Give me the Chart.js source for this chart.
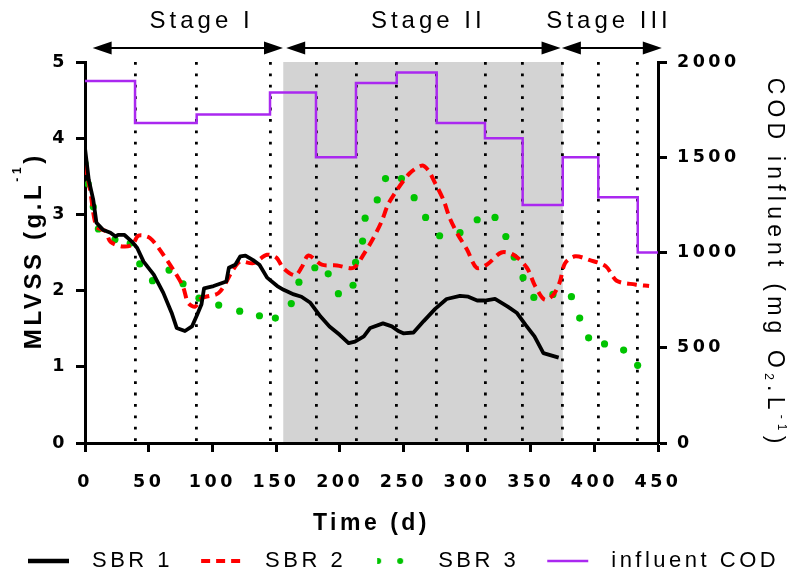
<!DOCTYPE html>
<html>
<head>
<meta charset="utf-8">
<title>MLVSS and influent COD</title>
<script src="https://cdn.jsdelivr.net/npm/chart.js@4.4.1/dist/chart.umd.min.js"></script>
<style>
    html, body { margin: 0; padding: 0; background: #ffffff; }
    #mlvss-chart { display: block; }
</style>
</head>
<body>
<canvas id="mlvss-chart" width="795" height="576"></canvas>
<script>
(function() {
    'use strict';

    // --- Data ---
    // SBR 1 (solid black), MLVSS in g/L
    var sbr1Days = [0, 3, 6.5, 9, 14, 20, 24, 26, 31, 37, 41, 46, 54, 61.5, 68, 72, 78.5, 84, 88, 91.5,
        93.5, 101, 111, 113, 118, 122, 126, 132, 137, 143, 151, 156, 164, 170, 177, 185, 192, 200, 207, 212,
        219, 224, 234, 241, 246, 250, 258, 266, 275, 284, 294.5, 301, 308, 314, 322, 332, 339, 346, 353, 360, 372];
    var sbr1Mlvss = [3.87, 3.45, 3.19, 2.89, 2.80, 2.76, 2.71, 2.73, 2.73, 2.64, 2.56, 2.38, 2.21, 1.97, 1.71, 1.51, 1.47, 1.53, 1.68, 1.82,
        2.03, 2.06, 2.12, 2.30, 2.34, 2.45, 2.46, 2.40, 2.34, 2.17, 2.06, 2.01, 1.95, 1.92, 1.84, 1.66, 1.53, 1.42, 1.31, 1.33,
        1.40, 1.51, 1.57, 1.53, 1.47, 1.44, 1.45, 1.60, 1.76, 1.89, 1.93, 1.92, 1.87, 1.87, 1.89, 1.79, 1.71, 1.55, 1.40, 1.18, 1.12];

    // SBR 2 (red dashed)
    var sbr2Days = [0, 4, 9, 16, 20, 29, 37, 42, 51, 61.5, 71, 77, 81, 86.5, 91.5, 105, 116.5, 122, 132, 143,
        150.5, 155.5, 165, 170, 175.5, 186, 198, 211, 219, 226.5, 233, 238, 245, 255, 264.5, 269.5, 275, 281.5, 286.5, 293,
        300, 307.5, 315.5, 327, 336.5, 347, 353.5, 361, 368, 373, 377, 385, 396.5, 409, 417.5, 432, 443];
    var sbr2Mlvss = [3.65, 3.32, 2.84, 2.78, 2.64, 2.58, 2.60, 2.72, 2.69, 2.47, 2.23, 2.05, 1.84, 1.79, 1.90, 1.97, 2.28, 2.38, 2.36, 2.47,
        2.43, 2.30, 2.20, 2.30, 2.46, 2.34, 2.33, 2.30, 2.48, 2.69, 2.91, 3.13, 3.32, 3.54, 3.64, 3.58, 3.41, 3.19, 2.95, 2.73,
        2.54, 2.30, 2.34, 2.50, 2.47, 2.30, 2.06, 1.88, 1.95, 2.12, 2.36, 2.45, 2.40, 2.32, 2.13, 2.08, 2.06];

    // SBR 3 (green dots)
    var sbr3Days = [0, 2.5, 6.5, 10.5, 23.5, 35.5, 43, 53, 66, 77, 89.5, 105, 121.5, 137, 149.5, 162, 168, 180.5, 191, 199,
        210.5, 212.5, 218, 220, 229.5, 236, 248.5, 258.5, 267.5, 278.5, 294.5, 308, 322, 330.5, 337, 344, 352.5, 367.5, 382, 388.5,
        395.5, 408, 423, 434];
    var sbr3Mlvss = [3.67, 3.40, 3.10, 2.81, 2.67, 2.62, 2.35, 2.13, 2.27, 2.09, 1.90, 1.81, 1.73, 1.67, 1.64, 1.83, 2.11, 2.30, 2.22, 1.96,
        2.07, 2.37, 2.65, 2.95, 3.19, 3.47, 3.47, 3.22, 2.96, 2.72, 2.76, 2.93, 2.96, 2.71, 2.44, 2.17, 1.91, 1.95, 1.92, 1.64,
        1.38, 1.30, 1.22, 1.02];

    // Influent COD (purple step line), mg O2/L
    var codDays = [0, 39.3, 87.7, 145.3, 181.4, 212.8, 244.8, 276.2, 314.1, 343.7, 375.2, 403.1, 434.1, 450];
    var codValues = [1900, 1680, 1725, 1840, 1500, 1890, 1945, 1680, 1600, 1250, 1500, 1290, 1000, 1000];

    // Dotted phase lines, shaded stage and stage arrows (days)
    var phaseDays = [39.3, 87.7, 145.3, 181.4, 212.8, 244.8, 276.2, 314.1, 343.7, 375.2, 403.1, 434.1];
    var shadeFrom = 155.7;
    var shadeTo = 375.2;
    var stageNames = ['Stage I', 'Stage II', 'Stage III'];
    var stageFrom = [6, 158, 374.5];
    var stageTo = [155.5, 373.5, 453];
    var stageLabelDay = [90, 268, 410];

    // Axis ticks
    var timeTicks = [0, 50, 100, 150, 200, 250, 300, 350, 400, 450];
    var mlvssTicks = [0, 1, 2, 3, 4, 5];
    var codTicks = [0, 500, 1000, 1500, 2000];

    var legendNames = ['SBR 1', 'SBR 2', 'SBR 3', 'influent COD'];

    var FONT = 'Liberation Sans';
    var TICK_FONT = { family: 'DejaVu Sans', weight: 'bold', size: 17.5 };

    function zip(xs, ys) {
        return xs.map(function(x, i) { return { x: x, y: ys[i] }; });
    }

    function tickSetter(values) {
        return function(scale) {
            scale.ticks = values.map(function(v) { return { value: v }; });
        };
    }

    // plain numbers, no thousands separator
    function plainLabel(value) {
        return String(value);
    }

    // Legend samples drawn into small canvases (used as point styles)
    var SAMPLE_W = 75;
    var SAMPLE_X = 22;

    function makeSample(draw) {
        var c = document.createElement('canvas');
        c.width = SAMPLE_W;
        c.height = 12;
        draw(c.getContext('2d'));
        return c;
    }

    function lineSample(color, width, dash) {
        return makeSample(function(g) {
            g.strokeStyle = color;
            g.lineWidth = width;
            g.setLineDash(dash || []);
            g.beginPath();
            g.moveTo(SAMPLE_X, 6);
            g.lineTo(SAMPLE_X + 41, 6);
            g.stroke();
        });
    }

    var legendSamples = [
        lineSample('#000000', 4.5),
        lineSample('#ff0000', 4, [9, 6]),
        makeSample(function(g) {
            g.fillStyle = '#00c400';
            g.save();
            g.beginPath();
            g.rect(SAMPLE_X + 3, 0, 50, 12);
            g.clip();
            g.beginPath();
            g.arc(SAMPLE_X + 4, 6, 3, 0, Math.PI * 2);
            g.fill();
            g.restore();
            g.beginPath();
            g.arc(SAMPLE_X + 26, 6, 3, 0, Math.PI * 2);
            g.fill();
        }),
        lineSample('#aa28f0', 2.5)
    ];

    // Prism-like wide letter spacing for all library text
    var letterSpacingPlugin = {
        id: 'letterSpacing',
        beforeUpdate: function(chart) { chart.ctx.letterSpacing = '3.5px'; },
        beforeDraw: function(chart) { chart.ctx.letterSpacing = '3.5px'; }
    };

    var stageShadePlugin = {
        id: 'stageShade',
        beforeDraw: function(chart) {
            var area = chart.chartArea;
            var xs = chart.scales.x;
            var ctx = chart.ctx;
            var left = xs.getPixelForValue(shadeFrom);
            var right = xs.getPixelForValue(shadeTo);
            ctx.save();
            ctx.fillStyle = '#d3d3d3';
            ctx.fillRect(left, area.top, right - left, area.bottom - area.top);
            ctx.restore();
        }
    };

    function drawArrowHead(ctx, tipX, y, dir) {
        ctx.beginPath();
        ctx.moveTo(tipX, y);
        ctx.lineTo(tipX - dir * 19, y - 6.5);
        ctx.lineTo(tipX - dir * 19, y + 6.5);
        ctx.closePath();
        ctx.fill();
    }

    // Text in pieces (for sub/superscripts), centred on (cx, cy) and rotated
    function drawRichText(ctx, parts, cx, cy, angle, spacing) {
        ctx.save();
        ctx.translate(cx, cy);
        ctx.rotate(angle);
        ctx.letterSpacing = spacing + 'px';
        ctx.textAlign = 'left';
        ctx.textBaseline = 'alphabetic';
        ctx.fillStyle = '#000000';
        var total = 0;
        parts.forEach(function(p) {
            ctx.font = p.font;
            p.width = ctx.measureText(p.text).width;
            total += p.width;
        });
        var x = -(total - spacing) / 2;
        parts.forEach(function(p) {
            ctx.font = p.font;
            ctx.fillText(p.text, x, p.dy);
            x += p.width;
        });
        ctx.restore();
    }

    var annotationPlugin = {
        id: 'stageAnnotations',
        afterDraw: function(chart) {
            var ctx = chart.ctx;
            var xs = chart.scales.x;
            var area = chart.chartArea;
            var arrowY = 48;

            ctx.save();
            ctx.strokeStyle = '#000000';
            ctx.fillStyle = '#000000';
            ctx.lineWidth = 2;
            stageNames.forEach(function(name, i) {
                var x1 = xs.getPixelForValue(stageFrom[i]);
                var x2 = xs.getPixelForValue(stageTo[i]);
                ctx.beginPath();
                ctx.moveTo(x1 + 10, arrowY);
                ctx.lineTo(x2 - 10, arrowY);
                ctx.stroke();
                drawArrowHead(ctx, x1, arrowY, -1);
                drawArrowHead(ctx, x2, arrowY, 1);

                ctx.font = '24px "' + FONT + '"';
                ctx.letterSpacing = '4px';
                ctx.textAlign = 'left';
                ctx.textBaseline = 'alphabetic';
                var w = ctx.measureText(name).width - 4;
                ctx.fillText(name, xs.getPixelForValue(stageLabelDay[i]) - w / 2, 28);
            });
            ctx.restore();

            var midY = (area.top + area.bottom) / 2;
            var bold24 = 'bold 24px "' + FONT + '"';
            var bold12 = 'bold 12px "' + FONT + '"';
            drawRichText(ctx, [
                { text: 'MLVSS (g.L', font: bold24, dy: 8.6 },
                { text: '-1', font: bold12, dy: -11 },
                { text: ')', font: bold24, dy: 8.6 }
            ], 32, midY, -Math.PI / 2, 3.6);

            var reg23 = '23px "' + FONT + '"';
            var reg12 = '12px "' + FONT + '"';
            drawRichText(ctx, [
                { text: 'COD influent (mg O', font: reg23, dy: 8.2 },
                { text: '2', font: reg12, dy: 11 },
                { text: '.L', font: reg23, dy: 8.2 },
                { text: '-1', font: reg12, dy: -2 },
                { text: ')', font: reg23, dy: 8.2 }
            ], 776, midY + 8, Math.PI / 2, 5.2);
        }
    };

    var axisGrid = {
        display: true,
        drawOnChartArea: false,
        drawTicks: true,
        tickLength: 9,
        tickWidth: 3,
        tickColor: '#000000'
    };
    var axisBorder = { display: true, color: '#000000', width: 3 };

    var datasets = [
        {
            label: 'SBR 1',
            data: zip(sbr1Days, sbr1Mlvss),
            yAxisID: 'y',
            borderColor: '#000000',
            borderWidth: 3.8,
            borderJoinStyle: 'round',
            tension: 0,
            pointRadius: 0
        },
        {
            label: 'SBR 2',
            data: zip(sbr2Days, sbr2Mlvss),
            yAxisID: 'y',
            borderColor: '#ff0000',
            borderWidth: 4,
            borderDash: [10, 6],
            tension: 0.3,
            pointRadius: 0
        },
        {
            label: 'SBR 3',
            data: zip(sbr3Days, sbr3Mlvss),
            yAxisID: 'y',
            showLine: false,
            pointRadius: 3.6,
            pointBorderWidth: 0,
            pointBackgroundColor: '#00c400',
            borderColor: '#00c400'
        },
        {
            label: 'influent COD',
            data: zip(codDays, codValues),
            yAxisID: 'y1',
            borderColor: '#aa28f0',
            borderWidth: 2.5,
            stepped: 'before',
            pointRadius: 0
        }
    ];

    var chartConfig = {
        type: 'line',
        data: { datasets: datasets },
        plugins: [letterSpacingPlugin, stageShadePlugin, annotationPlugin],
        options: {
            responsive: false,
            animation: false,
            devicePixelRatio: 1,
            layout: { padding: { top: 62, left: 0, right: 0, bottom: -6 } },
            plugins: {
                tooltip: { enabled: false },
                legend: {
                    position: 'bottom',
                    align: 'start',
                    labels: {
                        usePointStyle: true,
                        pointStyleWidth: SAMPLE_W,
                        padding: 6,
                        color: '#000000',
                        font: { family: FONT, size: 22 },
                        generateLabels: function() {
                            return legendNames.map(function(name, i) {
                                return {
                                    text: name,
                                    pointStyle: legendSamples[i],
                                    datasetIndex: i,
                                    hidden: false,
                                    lineWidth: 0,
                                    fillStyle: 'rgba(0,0,0,0)',
                                    strokeStyle: 'rgba(0,0,0,0)',
                                    fontColor: '#000000'
                                };
                            });
                        }
                    }
                }
            },
            scales: {
                x: {
                    type: 'linear',
                    position: 'bottom',
                    min: 0,
                    max: 450,
                    afterBuildTicks: tickSetter(timeTicks),
                    afterFit: function(scale) { scale.height = 101; },
                    grid: axisGrid,
                    border: axisBorder,
                    ticks: { color: '#000000', font: TICK_FONT, padding: 19.5, maxRotation: 0, autoSkip: false, callback: plainLabel },
                    title: {
                        display: true,
                        text: 'Time (d)',
                        color: '#000000',
                        font: { family: FONT, weight: 'bold', size: 23 },
                        padding: { top: 0, bottom: 7 }
                    }
                },
                xPhase: {
                    type: 'linear',
                    position: 'top',
                    min: 0,
                    max: 450,
                    afterBuildTicks: tickSetter(phaseDays),
                    afterFit: function(scale) { scale.height = 0; },
                    ticks: { display: false },
                    grid: { display: true, drawOnChartArea: true, drawTicks: false, color: '#000000', lineWidth: 2.8 },
                    border: { display: false, dash: [2.8, 8.6] }
                },
                y: {
                    type: 'linear',
                    position: 'left',
                    min: 0,
                    max: 5,
                    afterBuildTicks: tickSetter(mlvssTicks),
                    afterFit: function(scale) { scale.width = 85; },
                    grid: axisGrid,
                    border: axisBorder,
                    ticks: { color: '#000000', font: TICK_FONT, padding: 8, callback: plainLabel }
                },
                y1: {
                    type: 'linear',
                    position: 'right',
                    min: 0,
                    max: 2000,
                    afterBuildTicks: tickSetter(codTicks),
                    afterFit: function(scale) { scale.width = 137; },
                    grid: axisGrid,
                    border: axisBorder,
                    ticks: { color: '#000000', font: TICK_FONT, padding: 10, callback: plainLabel }
                }
            }
        }
    };

    try {
        new Chart(document.getElementById('mlvss-chart').getContext('2d'), chartConfig);
    } catch (error) {
        console.error('MLVSS chart initialization failed:', error);
    }
})();
</script>
</body>
</html>
